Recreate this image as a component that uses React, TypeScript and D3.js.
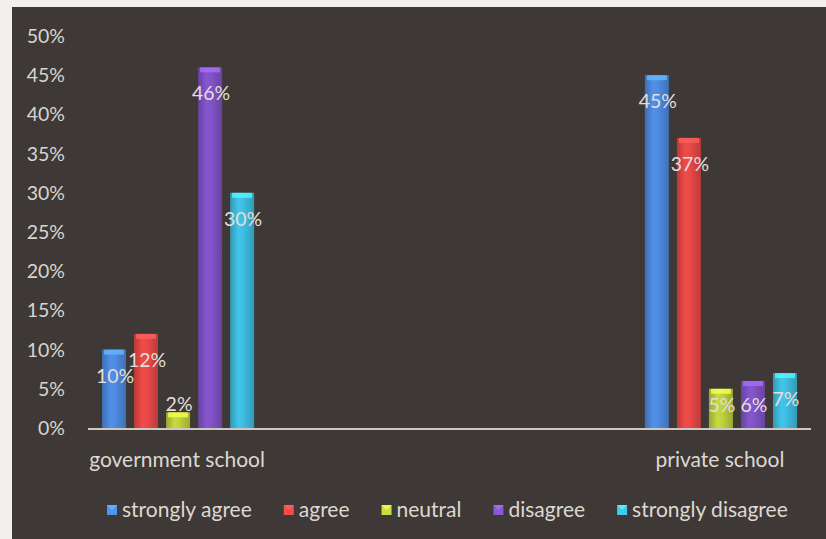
import React, { useEffect, useRef } from "react";
import * as d3 from "d3";

const categories = ["government school", "private school"];
const seriesNames = ["strongly agree", "agree", "neutral", "disagree", "strongly disagree"];
const seriesColors = ["#4a84d6", "#dc4543", "#b4c83a", "#7b4fbd", "#3cb4d6"];
const governmentValues = [10, 12, 2, 46, 30];
const privateValues = [45, 37, 5, 6, 7];
const yTicks = [0, 5, 10, 15, 20, 25, 30, 35, 40, 45, 50];

const W = 826;
const H = 539;
const FONT = "Lato, 'Open Sans', sans-serif";

export default function App() {
  const ref = useRef<SVGSVGElement>(null);

  useEffect(() => {
    const svg = d3.select(ref.current);
    svg.selectAll("*").remove();

    const valuesByCat = [governmentValues, privateValues];

    // page + panel
    svg.append("rect").attr("width", W).attr("height", H).attr("fill", "#f1f0ec");
    svg.append("rect").attr("x", 12).attr("y", 7).attr("width", W - 12).attr("height", H - 7).attr("fill", "#3e3936");

    const defs = svg.append("defs");
    seriesColors.forEach((c, i) => {
      const base = d3.color(c)!;
      const g = defs.append("linearGradient").attr("id", `g${i}`).attr("x1", 0).attr("x2", 1).attr("y1", 0).attr("y2", 0);
      g.append("stop").attr("offset", 0).attr("stop-color", base.darker(0.5).toString());
      g.append("stop").attr("offset", 0.35).attr("stop-color", base.brighter(0.25).toString());
      g.append("stop").attr("offset", 0.55).attr("stop-color", base.brighter(0.15).toString());
      g.append("stop").attr("offset", 1).attr("stop-color", base.darker(0.45).toString());
    });

    const y = d3.scaleLinear().domain([0, 50]).range([428, 36]);
    const x0 = d3.scaleBand<string>().domain(categories).range([88, 811]).paddingInner(0.705).paddingOuter(0.0184);
    const x1 = d3.scaleBand<string>().domain(seriesNames).range([0, x0.bandwidth()]).paddingInner(0.25).paddingOuter(0.125);

    // y tick labels
    svg.append("g").selectAll("text").data(yTicks).join("text")
      .attr("x", 65).attr("y", (d) => y(d) + 7)
      .attr("text-anchor", "end")
      .attr("font-family", FONT).attr("font-size", 19.5)
      .attr("fill", "#d9d5cf")
      .text((d) => `${d}%`);

    // bars
    const groups = svg.append("g").selectAll("g").data(categories).join("g")
      .attr("transform", (d) => `translate(${x0(d)},0)`);

    groups.each(function (cat, ci) {
      const gg = d3.select(this);
      const vals = valuesByCat[ci];
      vals.forEach((v, si) => {
        const name = seriesNames[si];
        const bx = x1(name)!;
        const bw = x1.bandwidth();
        const top = y(v);
        const h = y(0) - top;
        gg.append("rect").attr("x", bx).attr("y", top).attr("width", bw).attr("height", h).attr("fill", `url(#g${si})`);
        const cap = d3.color(seriesColors[si])!.brighter(0.9).toString();
        gg.append("rect").attr("x", bx + 2).attr("y", top).attr("width", bw - 4).attr("height", Math.min(5, h)).attr("fill", cap).attr("opacity", 0.8);
      });
    });

    // axis line
    svg.append("line").attr("x1", 88).attr("x2", 811).attr("y1", y(0) + 1).attr("y2", y(0) + 1)
      .attr("stroke", "#cdc8c1").attr("stroke-width", 2);

    // data labels
    groups.each(function (cat, ci) {
      const gg = d3.select(this);
      const vals = valuesByCat[ci];
      vals.forEach((v, si) => {
        const name = seriesNames[si];
        const cx = x1(name)! + x1.bandwidth() / 2 + 1;
        const top = y(v);
        const h = y(0) - top;
        const by = h < 20 ? top - 1 : Math.min(top + 33, y(0) - 16);
        gg.append("text").attr("x", cx).attr("y", by)
          .attr("text-anchor", "middle")
          .attr("font-family", FONT).attr("font-size", 19.5)
          .attr("fill", "#e2dfda")
          .text(`${v}%`);
      });
    });

    // category labels
    svg.append("g").selectAll("text").data(categories).join("text")
      .attr("x", (d) => x0(d)! + x0.bandwidth() / 2 - 1)
      .attr("y", 467)
      .attr("text-anchor", "middle")
      .attr("font-family", FONT).attr("font-size", 21)
      .attr("fill", "#dcd8d2")
      .text((d) => d);

    // legend
    const leg = svg.append("g");
    let lx = 107;
    const ly = 510;
    seriesNames.forEach((name, i) => {
      const base = d3.color(seriesColors[i])!;
      leg.append("rect").attr("x", lx).attr("y", ly - 5).attr("width", 10).attr("height", 10).attr("fill", base.brighter(0.3).toString());
      leg.append("path").attr("d", `M${lx},${ly - 5}L${lx + 5},${ly}L${lx + 10},${ly - 5}Z`).attr("fill", base.brighter(1).toString()).attr("opacity", 0.7);
      const t = leg.append("text").attr("x", lx + 15).attr("y", ly + 7)
        .attr("font-family", FONT).attr("font-size", 21)
        .attr("fill", "#dcd8d2")
        .text(name);
      const len = (t.node() as SVGTextElement).getComputedTextLength();
      lx += 15 + len + 32;
    });
  }, []);

  return (
    <div style={{ position: "fixed", left: 0, top: 0 }}>
      <svg ref={ref} width={W} height={H} style={{ display: "block" }} />
    </div>
  );
}
